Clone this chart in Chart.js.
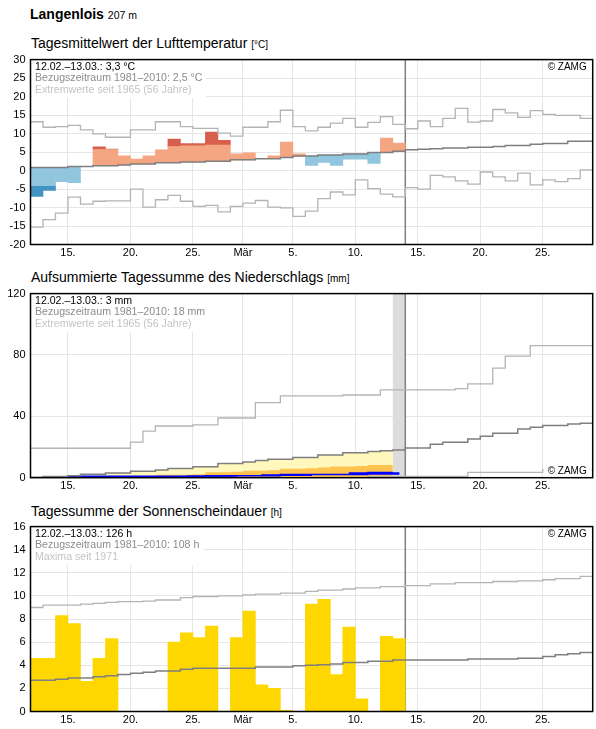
<!DOCTYPE html>
<html>
<head>
<meta charset="utf-8">
<script src="https://cdn.jsdelivr.net/npm/chart.js@4.4.1/dist/chart.umd.min.js"></script>
<style>
  body { margin: 0; background: #fff; font-family: "Liberation Sans", Arial, sans-serif; }
  #page { position: relative; width: 596px; height: 729px; overflow: hidden; }
  .t { position: absolute; left: 31px; font-size: 14px; line-height: 14px; white-space: nowrap; color: #000; }
  .t small { font-size: 10px; }
  canvas { position: absolute; left: 0; }
</style>
</head>
<body>
<div id="page">
  <div class="t" style="top:6.5px;left:30px;font-weight:bold">Langenlois <small style="font-weight:normal;font-size:10.5px">207 m</small></div>
  <div class="t" style="top:36.4px">Tagesmittelwert der Lufttemperatur <small>[°C]</small></div>
  <div class="t" style="top:270.2px">Aufsummierte Tagessumme des Niederschlags <small>[mm]</small></div>
  <div class="t" style="top:504.2px">Tagessumme der Sonnenscheindauer <small>[h]</small></div>
  <canvas id="tempChart" width="596" height="216" style="top:48px"></canvas>
  <canvas id="precipChart" width="596" height="216" style="top:282px"></canvas>
  <canvas id="sunChart" width="596" height="214" style="top:515px"></canvas>
</div>
<script>
// days counted from 12.02. (index 0) to 28.03. (index 44)
const nDays = 45
const tickDays = [3, 8, 13, 17, 21, 26, 31, 36, 41]
const tickLabels = ['15.', '20.', '25.', 'Mär', '5.', '10.', '15.', '20.', '25.']
const lastDay = 30 // end of 13.03.

// temperature [°C]
const tempMean = [-7.0, -5.4, -3.0, -3.3, 1.1, 6.4, 5.8, 4.0, 3.1, 4.0, 5.6, 8.5, 7.3, 7.3, 10.4,
  8.2, 4.5, 4.8, 3.3, 4.0, 7.7, 4.5, 1.4, 2.2, 1.4, 3.1, 3.1, 1.9, 8.8, 7.4]
const tempNormal = [0.8, 0.8, 0.8, 1.1, 1.1, 1.3, 1.3, 1.5, 1.8, 1.8, 2.1, 2.1, 2.3, 2.3, 2.5,
  2.5, 2.9, 2.9, 3.2, 3.2, 3.5, 3.9, 3.9, 4.2, 4.2, 4.5, 4.5, 4.9, 4.9, 5.2,
  5.6, 5.75, 5.9, 6.1, 6.1, 6.3, 6.3, 6.5, 6.8, 6.8, 7.1, 7.3, 7.3, 7.9, 7.9]
const tempMax = [13.2, 11.7, 11.9, 12.2, 11.0, 9.9, 9.0, 9.0, 11.0, 11.0, 13.2, 13.2, 11.9, 11.4, 11.4,
  10.1, 9.3, 11.7, 11.7, 13.2, 16.3, 11.9, 10.7, 11.7, 12.8, 14.1, 11.7, 13.0, 14.6, 12.5,
  11.3, 13.4, 11.9, 14.1, 16.8, 13.1, 13.4, 16.5, 15.6, 14.4, 16.2, 15.2, 14.9, 14.9, 14.1]
const tempMin = [-15.3, -13.3, -11.5, -7.2, -9.1, -8.3, -8.2, -8.2, -5.0, -9.9, -7.9, -6.7, -8.3, -9.7, -9.4,
  -11.2, -9.7, -8.8, -8.1, -9.9, -10.1, -12.4, -11.0, -7.6, -5.8, -6.6, -2.5, -4.9, -6.4, -7.1,
  -4.6, -5.0, -1.3, -1.7, -2.8, -3.7, -0.4, -1.7, -2.8, -0.7, -3.9, -2.5, -3.0, -2.2, 0.2]
const tempSdUp = 4.4
const tempSdDown = 4.9

// precipitation [mm]
const precipDaily = [0, 0, 0, 0.9, 0, 0, 0, 0, 0, 0, 0, 0, 0, 0, 0.4,
  0, 0, 0, 0, 0, 0.8, 0, 0, 0, 0, 0, 0, 1.3, 0]
const precipLow = [0.0, 0.6, 0.6, 0.6, 0.7, 0.7, 0.8, 0.8, 0.9, 1.0, 2.0, 2.0, 2.0, 2.3, 3.5,
  3.5, 3.8, 4.5, 4.5, 4.8, 5.8, 5.8, 6.2, 6.7, 7.3, 7.3, 7.7, 8.2, 8.2]
const precipNormal = [0.3, 0.8, 0.8, 1.3, 2.2, 2.2, 3.1, 3.1, 4.2, 4.2, 5.0, 6.0, 6.0, 7.1, 7.1,
  9.2, 9.2, 10.3, 11.2, 12.1, 12.1, 13.1, 13.1, 14.8, 14.8, 16.2, 16.2, 17.1, 17.6, 18.1,
  19.4, 19.4, 21.8, 23.1, 23.1, 25.3, 27.0, 29.0, 29.0, 31.8, 32.9, 34.0, 34.0, 35.0, 35.5]
const precipMax = [19.2, 19.2, 19.2, 19.2, 19.2, 19.2, 19.2, 19.2, 23.2, 30.4, 33.7, 33.7, 33.7, 34.4, 34.4,
  38.9, 38.9, 38.9, 48.9, 48.9, 53.4, 53.4, 53.4, 53.4, 53.4, 53.9, 53.9, 53.9, 57.2, 57.2,
  57.2, 57.2, 57.2, 57.2, 58.1, 61.1, 61.1, 71.4, 79.2, 79.2, 86.1, 86.1, 86.1, 86.1, 86.1]
const precipMin = [0.1, 0.1, 0.1, 0.1, 0.1, 0.1, 0.1, 0.1, 0.1, 0.1, 0.1, 0.1, 0.1, 0.1, 0.1,
  0.1, 0.1, 0.1, 0.1, 0.1, 0.1, 0.1, 0.1, 0.1, 0.1, 0.1, 0.1, 0.9, 0.9, 0.9,
  0.9, 0.9, 0.9, 0.9, 0.9, 3.5, 3.5, 3.5, 3.5, 3.5, 3.5, 5.3, 5.3, 5.3, 5.3]

// sunshine [h]
const sunHours = [4.6, 4.6, 8.3, 7.6, 2.6, 4.6, 6.3, 0, 0, 0, 0, 6.0, 6.8, 6.4, 7.4,
  0, 6.4, 8.7, 2.3, 2.0, 0.1, 0, 9.3, 9.7, 3.2, 7.3, 1.1, 0, 6.5, 6.3]
const sunNormal = [2.7, 2.7, 2.8, 2.9, 2.9, 3.0, 3.1, 3.2, 3.3, 3.4, 3.5, 3.5, 3.65, 3.75, 3.75,
  3.75, 3.75, 3.75, 3.85, 3.85, 3.85, 3.95, 4.0, 4.05, 4.1, 4.25, 4.25, 4.35, 4.35, 4.45,
  4.45, 4.45, 4.45, 4.45, 4.45, 4.55, 4.55, 4.55, 4.55, 4.6, 4.6, 4.75, 4.9, 5.0, 5.1]
const sunMax = [9.0, 9.2, 9.2, 9.2, 9.3, 9.35, 9.45, 9.5, 9.5, 9.55, 9.65, 9.65, 9.85, 9.95, 9.95,
  10.0, 10.0, 10.1, 10.15, 10.15, 10.25, 10.25, 10.4, 10.5, 10.5, 10.6, 10.7, 10.7, 10.8, 10.8,
  10.9, 10.9, 11.05, 11.05, 11.15, 11.15, 11.15, 11.25, 11.25, 11.3, 11.3, 11.4, 11.5, 11.5, 11.7]

const FONT = '"Liberation Sans", Arial, sans-serif'
const GRID = '#E6E6E6'

// one value per day -> flat step over the whole day
const steps = arr => arr.flatMap((v, i) => [{x: i, y: v}, {x: i + 1, y: v}])

const line = (arr, color, width, order) => ({
  type: 'line', data: steps(arr), borderColor: color, borderWidth: width,
  pointRadius: 0, fill: false, order
})
const area = (arr, color, order) => ({
  type: 'line', data: steps(arr), borderColor: 'rgba(0,0,0,0)', borderWidth: 0,
  backgroundColor: color, pointRadius: 0, fill: 'origin', order
})
const bars = (data, color, order) => ({
  type: 'bar', data, backgroundColor: color, borderWidth: 0,
  barPercentage: 1, categoryPercentage: 1, grouped: false, order
})

function decor(cfg) {
  return {
    id: 'decor',
    beforeDatasetsDraw(chart) {
      const {ctx, chartArea: a, scales: {x}} = chart
      ctx.save()
      if (cfg.band) {
        const x0 = x.getPixelForValue(lastDay - 1), x1 = x.getPixelForValue(lastDay)
        ctx.fillStyle = '#DCDCDC'
        ctx.fillRect(x0, a.top, x1 - x0, a.bottom - a.top)
      }
      const xl = x.getPixelForValue(lastDay)
      ctx.strokeStyle = '#7F7F7F'
      ctx.lineWidth = 1.5
      ctx.beginPath()
      ctx.moveTo(xl, a.top)
      ctx.lineTo(xl, a.bottom)
      ctx.stroke()
      ctx.restore()
    },
    afterDatasetsDraw(chart) {
      const {ctx, chartArea: a} = chart
      ctx.save()
      ctx.font = '10.6px ' + FONT
      ctx.textBaseline = 'middle'
      const colors = ['#000', '#8C8C8C', '#C4C4C4']
      const w = Math.max(...cfg.notes.map(t => ctx.measureText(t).width))
      ctx.fillStyle = '#fff'
      ctx.fillRect(a.left + 1, a.top + 1, 35 - a.left + w + 3, 37.5)
      cfg.notes.forEach((t, i) => {
        ctx.fillStyle = colors[i]
        ctx.fillText(t, 35, a.top + 7 + i * 11.7)
      })
      ctx.font = '10px ' + FONT
      ctx.textAlign = 'right'
      const zy = cfg.zamgBottom ? a.bottom - 6 : a.top + 7.5
      const zw = ctx.measureText('© ZAMG').width
      ctx.fillStyle = '#fff'
      ctx.fillRect(a.right - 6 - zw - 4, zy - 6, zw + 9, 12)
      ctx.fillStyle = '#000'
      ctx.fillText('© ZAMG', a.right - 6, zy)
      ctx.restore()
    },
    afterDraw(chart) {
      const {ctx, chartArea: a} = chart
      ctx.save()
      ctx.strokeStyle = '#000'
      ctx.lineWidth = 1.5
      ctx.strokeRect(a.left, a.top, a.right - a.left, a.bottom - a.top)
      ctx.restore()
    }
  }
}

function panel(id, datasets, y, cfg) {
  return new Chart(document.getElementById(id), {
    type: 'line',
    data: {datasets},
    options: {
      responsive: false,
      animation: false,
      devicePixelRatio: 1,
      layout: {padding: {top: cfg.padTop, right: 3.3, left: 0, bottom: 0}},
      plugins: {legend: {display: false}, tooltip: {enabled: false}},
      scales: {
        x: {
          type: 'linear', min: 0, max: nDays, offset: false,
          afterBuildTicks: s => { s.ticks = tickDays.map(v => ({value: v})) },
          afterFit: s => { s.height = cfg.xHeight },
          grid: {color: GRID, drawTicks: false, offset: false},
          border: {display: false},
          ticks: {
            autoSkip: false, maxRotation: 0, padding: 2, color: '#000',
            font: {family: FONT, size: 11},
            callback: (v, i) => tickLabels[i]
          }
        },
        y: {
          min: y.min, max: y.max,
          afterFit: s => { s.width = 30.5 },
          grid: {color: GRID, drawTicks: false},
          border: {display: false},
          ticks: {stepSize: y.step, padding: 5, color: '#000', font: {family: FONT, size: 11}}
        }
      }
    },
    plugins: [decor(cfg)]
  })
}

// temperature bars: from the normal to the daily mean, darker beyond the usual range
const warm = [], hot = [], cool = [], cold = []
tempMean.forEach((v, i) => {
  const n = tempNormal[i], hi = n + tempSdUp, lo = n - tempSdDown, x = i + 0.5
  if (v >= n) {
    warm.push({x, y: [n, Math.min(v, hi)]})
    if (v > hi) hot.push({x, y: [hi, v]})
  } else {
    cool.push({x, y: [Math.max(v, lo), n]})
    if (v < lo) cold.push({x, y: [v, lo]})
  }
})

panel('tempChart', [
  line(tempNormal, '#7F7F7F', 1.5, 0),
  line(tempMax, '#B4B4B4', 1.3, 1),
  line(tempMin, '#B4B4B4', 1.3, 1),
  bars(warm, '#F4A582', 5),
  bars(hot, '#D6604D', 5),
  bars(cool, '#92C5DE', 5),
  bars(cold, '#4393C3', 5)
], {min: -20, max: 30, step: 5}, {
  padTop: 10.5, xHeight: 19.5,
  notes: ['12.02.–13.03.: 3,3 °C', 'Bezugszeitraum 1981–2010: 2,5 °C', 'Extremwerte seit 1965 (56 Jahre)']
})

// precipitation: running sum of the observed days
const precipCum = []
precipDaily.reduce((s, v, i) => (precipCum[i] = s + v), 0)
const rainBlocks = precipDaily.map((v, i) => v > 0 ? {x: i + 0.5, y: [precipCum[i] - v, precipCum[i]]} : null)
  .filter(Boolean)

panel('precipChart', [
  line(precipNormal, '#7F7F7F', 1.5, 0),
  line(precipMax, '#B4B4B4', 1.3, 1),
  line(precipMin, '#B4B4B4', 1.3, 1),
  line(precipCum, '#0000FF', 1.5, 2),
  bars(rainBlocks, '#0000FF', 3),
  area(precipLow, '#FEC44F', 4),
  area(precipNormal.slice(0, precipDaily.length), '#FFF7BC', 5)
], {min: 0, max: 120, step: 40}, {
  padTop: 9.7, xHeight: 20.3, band: true, zamgBottom: true,
  notes: ['12.02.–13.03.: 3 mm', 'Bezugszeitraum 1981–2010: 18 mm', 'Extremwerte seit 1965 (56 Jahre)']
})

panel('sunChart', [
  line(sunNormal, '#7F7F7F', 1.5, 0),
  line(sunMax, '#B4B4B4', 1.3, 1),
  bars(sunHours.map((v, i) => ({x: i + 0.5, y: v})), '#FFD700', 5)
], {min: 0, max: 16, step: 2}, {
  padTop: 10.5, xHeight: 17.5,
  notes: ['12.02.–13.03.: 126 h', 'Bezugszeitraum 1981–2010: 108 h', 'Maxima seit 1971']
})
</script>
</body>
</html>
